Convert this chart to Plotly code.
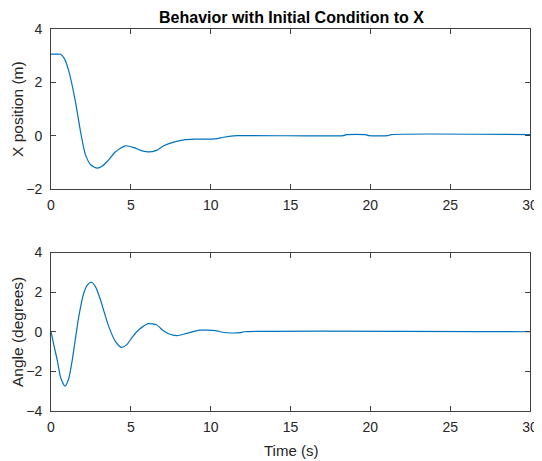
import plotly.graph_objects as go
from plotly.subplots import make_subplots

# ---- data ----
t_x = [0, 0.3, 0.6, 0.85, 1.12, 1.53, 1.85, 2.16, 2.5, 2.89, 3.2, 3.52, 4.04, 4.66,
       5.2, 5.71, 6.12, 6.6, 7.06, 7.69, 8.32, 9.0, 10.3, 10.8, 11.66, 18.3, 18.5,
       19.7, 19.9, 21.1, 21.3, 30]
x_pos = [3.06, 3.06, 3.05, 2.88, 2.41, 1.28, 0.15, -0.72, -1.1, -1.22, -1.15, -0.97,
         -0.60, -0.38, -0.45, -0.57, -0.61, -0.55, -0.38, -0.24, -0.16, -0.13, -0.12,
         -0.06, 0.0, 0.0, 0.04, 0.04, 0.0, 0.0, 0.04, 0.04]

t_ang = [0, 0.2, 0.39, 0.6, 0.87, 1.1, 1.33, 1.74, 2.05, 2.3, 2.54, 2.8, 3.1, 3.62,
         4.04, 4.41, 4.75, 5.08, 5.5, 6.1, 6.6, 7.06, 7.5, 7.9, 8.5, 9.3, 10.3, 10.6,
         11.0, 11.9, 12.1, 30]
angle = [0, -0.75, -1.43, -2.3, -2.74, -2.4, -1.43, 0.76, 1.94, 2.38, 2.5, 2.25, 1.6,
         0.26, -0.5, -0.79, -0.65, -0.28, 0.1, 0.41, 0.35, 0.04, -0.14, -0.2, -0.08,
         0.08, 0.06, 0.0, -0.05, -0.04, 0.0, 0.0]

x_ticks = [0, 5, 10, 15, 20, 25, 30]
top_ticks = [-2, 0, 2, 4]
bot_ticks = [-4, -2, 0, 2, 4]

title_text = "Behavior with Initial Condition to X"
ylabel_top = "X position (m)"
ylabel_bot = "Angle (degrees)"
xlabel_bot = "Time (s)"

LINE = "#0072BD"
TXT = "#262626"
AX = "#404040"
FONT = "Liberation Sans, Arial, sans-serif"

OFF = 8  # browser default body margin
W, H = 542 - OFF, 461 - OFF
ML, MR, MT, MB = 51 - OFF, 12, 29 - OFF, 50
PH = H - MT - MB

fig = make_subplots(rows=2, cols=1)
fig.add_trace(go.Scatter(x=t_x, y=x_pos, mode="lines",
                         line=dict(color=LINE, width=1.2, shape="spline", smoothing=0.6)),
              row=1, col=1)
fig.add_trace(go.Scatter(x=t_ang, y=angle, mode="lines",
                         line=dict(color=LINE, width=1.2, shape="spline", smoothing=0.6)),
              row=2, col=1)

axis_common = dict(showline=True, linecolor=AX, linewidth=1, mirror="ticks",
                   ticks="inside", ticklen=5, tickcolor=AX, tickwidth=1,
                   showgrid=False, zeroline=False, automargin=False,
                   tickfont=dict(family=FONT, size=14, color=TXT))

fig.update_xaxes(range=[0, 30], tickvals=x_ticks, domain=[0, 1],
                 ticklabelstandoff=3, **axis_common)
fig.update_yaxes(ticklabelstandoff=5, **axis_common)


def py(ypix):
    return (H - MB - (ypix - OFF)) / PH


def px(xpix):
    return ((xpix - OFF) - ML) / (W - ML - MR)


top_lo = py(189)
bot_hi = py(252.5)

fig.update_layout(
    xaxis=dict(anchor="y"),
    yaxis=dict(range=[-2, 4], tickvals=top_ticks, domain=[top_lo, 1]),
    xaxis2=dict(anchor="y2"),
    yaxis2=dict(range=[-4, 4], tickvals=bot_ticks, domain=[0, bot_hi]),
    width=W, height=H,
    margin=dict(l=ML, r=MR, t=MT, b=MB),
    paper_bgcolor="#ffffff", plot_bgcolor="#ffffff",
    showlegend=False,
    annotations=[
        dict(text="<b>" + title_text + "</b>", x=px(291), y=py(OFF + 0.2),
             xref="paper", yref="paper", xanchor="center", yanchor="top",
             borderpad=0, showarrow=False,
             font=dict(family=FONT, size=16, color="#000000")),
        dict(text=ylabel_top, x=px(17), y=py(109), xref="paper", yref="paper",
             xanchor="center", yanchor="middle", showarrow=False, textangle=-90,
             font=dict(family=FONT, size=15.5, color=TXT)),
        dict(text=ylabel_bot, x=px(17), y=py(332), xref="paper", yref="paper",
             xanchor="center", yanchor="middle", showarrow=False, textangle=-90,
             font=dict(family=FONT, size=15.5, color=TXT)),
        dict(text=xlabel_bot, x=px(291), y=py(450), xref="paper", yref="paper",
             xanchor="center", yanchor="middle", showarrow=False,
             font=dict(family=FONT, size=15, color=TXT)),
    ],
)

fig.write_html("out.html")
